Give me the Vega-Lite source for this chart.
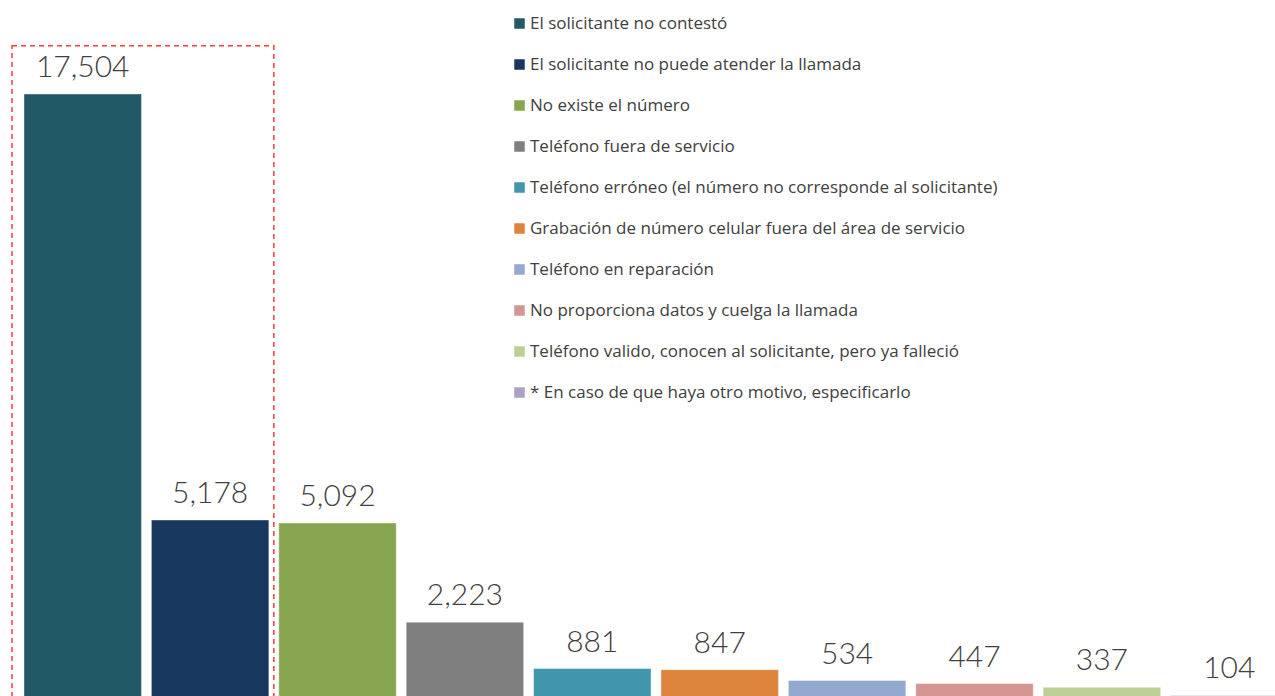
{
  "$schema": "https://vega.github.io/schema/vega-lite/v6.json",
  "width": 1275,
  "height": 696,
  "autosize": {"type": "none"},
  "padding": 0,
  "background": "white",
  "config": {"view": {"stroke": null}},
  "datasets": {
    "bars": [
      {"motivo": "El solicitante no contestó", "casos": 17504},
      {"motivo": "El solicitante no puede atender la llamada", "casos": 5178},
      {"motivo": "No existe el número", "casos": 5092},
      {"motivo": "Teléfono fuera de servicio", "casos": 2223},
      {"motivo": "Teléfono erróneo (el número no corresponde al solicitante)", "casos": 881},
      {"motivo": "Grabación de número celular fuera del área de servicio", "casos": 847},
      {"motivo": "Teléfono en reparación", "casos": 534},
      {"motivo": "No proporciona datos y cuelga la llamada", "casos": 447},
      {"motivo": "Teléfono valido, conocen al solicitante, pero ya falleció", "casos": 337},
      {"motivo": "* En caso de que haya otro motivo, especificarlo", "casos": 104}
    ],
    "box": [
      {"desde": "El solicitante no contestó", "hasta": "El solicitante no puede atender la llamada", "tope": 18900}
    ]
  },
  "layer": [
    {
      "data": {"name": "bars"},
      "mark": {"type": "bar", "stroke": "white", "strokeWidth": 0.8, "strokeOpacity": 0.5},
      "encoding": {
        "x": {
          "field": "motivo", "type": "nominal", "axis": null,
          "scale": {
            "domain": ["El solicitante no contestó", "El solicitante no puede atender la llamada", "No existe el número", "Teléfono fuera de servicio", "Teléfono erróneo (el número no corresponde al solicitante)", "Grabación de número celular fuera del área de servicio", "Teléfono en reparación", "No proporciona datos y cuelga la llamada", "Teléfono valido, conocen al solicitante, pero ya falleció", "* En caso de que haya otro motivo, especificarlo"],
            "range": [24, 1288],
            "paddingInner": 0.078,
            "paddingOuter": 0
          }
        },
        "y": {
          "field": "casos", "type": "quantitative", "axis": null,
          "scale": {"domain": [0, 17504], "range": [699, 94], "nice": false, "zero": true}
        },
        "color": {
          "field": "motivo", "type": "nominal",
          "scale": {
            "domain": ["El solicitante no contestó", "El solicitante no puede atender la llamada", "No existe el número", "Teléfono fuera de servicio", "Teléfono erróneo (el número no corresponde al solicitante)", "Grabación de número celular fuera del área de servicio", "Teléfono en reparación", "No proporciona datos y cuelga la llamada", "Teléfono valido, conocen al solicitante, pero ya falleció", "* En caso de que haya otro motivo, especificarlo"],
            "range": ["#215967", "#17375E", "#88A550", "#7F7F7F", "#4196AE", "#DC843C", "#93A9CF", "#D59592", "#BBCF96", "#ADA0C5"]
          },
          "legend": {
            "orient": "none",
            "legendX": 511,
            "legendY": 15,
            "padding": 0,
            "title": null,
            "symbolType": "square",
            "symbolSize": 110,
            "symbolStrokeWidth": 0,
            "symbolOpacity": 1,
            "labelFont": "Open Sans",
            "labelFontSize": 17,
            "labelColor": "#404040",
            "labelOffset": 2,
            "labelLimit": 700,
            "rowPadding": 23
          }
        }
      }
    },
    {
      "data": {"name": "bars"},
      "mark": {"type": "text", "dy": -17, "baseline": "alphabetic", "align": "center", "font": "Lato", "fontWeight": 300, "fontSize": 30, "color": "#404040"},
      "encoding": {
        "x": {"field": "motivo", "type": "nominal"},
        "y": {"field": "casos", "type": "quantitative"},
        "text": {"field": "casos", "type": "quantitative", "format": ",d"}
      }
    },
    {
      "data": {"name": "box"},
      "mark": {"type": "rect", "fill": null, "stroke": "#FF3B3B", "strokeWidth": 1.5, "strokeDash": [5, 4], "xOffset": -12, "x2Offset": 5},
      "encoding": {
        "x": {"field": "desde", "type": "nominal", "bandPosition": 0},
        "x2": {"field": "hasta", "bandPosition": 1},
        "y": {"field": "tope", "type": "quantitative"},
        "y2": {"datum": 0}
      }
    }
  ]
}
